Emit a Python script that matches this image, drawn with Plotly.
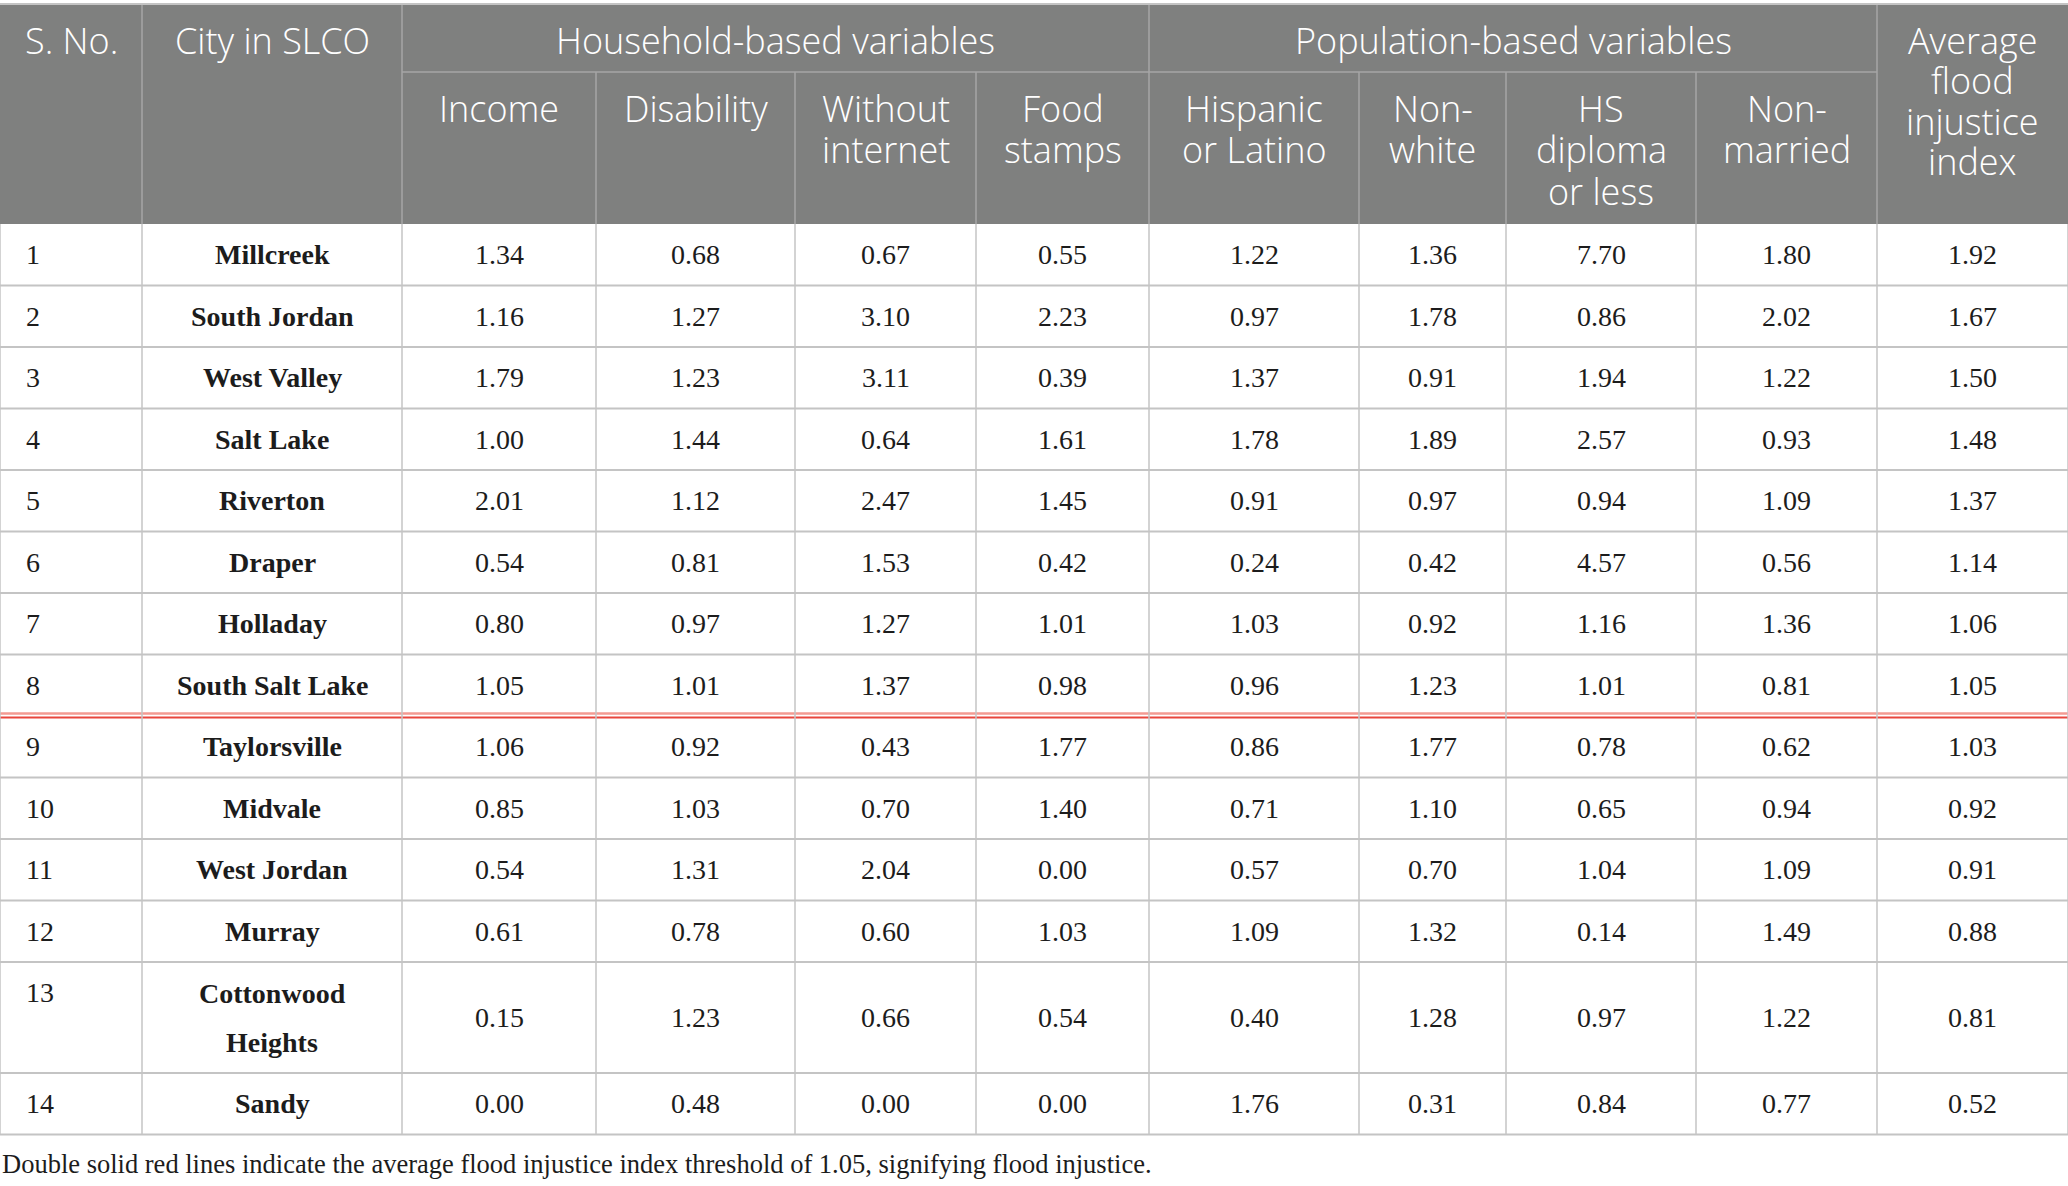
import plotly.graph_objects as go

# ---------------- data ----------------
s_no = [1, 2, 3, 4, 5, 6, 7, 8, 9, 10, 11, 12, 13, 14]
cities = ["Millcreek", "South Jordan", "West Valley", "Salt Lake", "Riverton", "Draper",
          "Holladay", "South Salt Lake", "Taylorsville", "Midvale", "West Jordan", "Murray",
          "Cottonwood Heights", "Sandy"]
income = [1.34, 1.16, 1.79, 1.00, 2.01, 0.54, 0.80, 1.05, 1.06, 0.85, 0.54, 0.61, 0.15, 0.00]
disability = [0.68, 1.27, 1.23, 1.44, 1.12, 0.81, 0.97, 1.01, 0.92, 1.03, 1.31, 0.78, 1.23, 0.48]
without_internet = [0.67, 3.10, 3.11, 0.64, 2.47, 1.53, 1.27, 1.37, 0.43, 0.70, 2.04, 0.60, 0.66, 0.00]
food_stamps = [0.55, 2.23, 0.39, 1.61, 1.45, 0.42, 1.01, 0.98, 1.77, 1.40, 0.00, 1.03, 0.54, 0.00]
hispanic_latino = [1.22, 0.97, 1.37, 1.78, 0.91, 0.24, 1.03, 0.96, 0.86, 0.71, 0.57, 1.09, 0.40, 1.76]
non_white = [1.36, 1.78, 0.91, 1.89, 0.97, 0.42, 0.92, 1.23, 1.77, 1.10, 0.70, 1.32, 1.28, 0.31]
hs_diploma = [7.70, 0.86, 1.94, 2.57, 0.94, 4.57, 1.16, 1.01, 0.78, 0.65, 1.04, 0.14, 0.97, 0.84]
non_married = [1.80, 2.02, 1.22, 0.93, 1.09, 0.56, 1.36, 0.81, 0.62, 0.94, 1.09, 1.49, 1.22, 0.77]
avg_index = [1.92, 1.67, 1.50, 1.48, 1.37, 1.14, 1.06, 1.05, 1.03, 0.92, 0.91, 0.88, 0.81, 0.52]
threshold = 1.05

group_labels = ["Household-based variables", "Population-based variables"]
sub_labels = [["Income"], ["Disability"], ["Without", "internet"], ["Food", "stamps"],
              ["Hispanic", "or Latino"], ["Non-", "white"], ["HS", "diploma", "or less"],
              ["Non-", "married"]]
first_labels = ["S. No.", "City in SLCO"]
last_label = ["Average", "flood", "injustice", "index"]
footnote = ("Double solid red lines indicate the average flood injustice index threshold "
            "of 1.05, signifying flood injustice.")

# ---------------- layout geometry ----------------
W, H = 2068, 1186
col_edges = [0, 142, 402, 596, 795, 976, 1149, 1359, 1506, 1696, 1877, 2068]
top = 4
group_bottom = 72
header_bottom = 224
row_h = 61.5
wrap_row_h = 111

HEAD_BG = "#7f807f"
HEAD_LINE = "#a6a6a6"
GRID = "#c4c4c4"
TXT = "#1c1c1c"
SANS = "Open Sans"
SERIF = "Liberation Serif"

value_cols = [income, disability, without_internet, food_stamps, hispanic_latino,
              non_white, hs_diploma, non_married, avg_index]

fig = go.Figure()
shapes = []
ann = []


def line(x0, y0, x1, y1, color, width):
    shapes.append(dict(type="line", xref="x", yref="y", x0=x0, y0=y0, x1=x1, y1=y1,
                       line=dict(color=color, width=width), layer="above"))


def text(x, y, t, size, color, family, xanchor="center", weight=400):
    ann.append(dict(x=x, y=y, xref="x", yref="y", text=t, showarrow=False,
                    xanchor=xanchor, yanchor="middle",
                    font=dict(size=size, color=color, family=family, weight=weight)))


# header background
shapes.append(dict(type="rect", xref="x", yref="y", x0=col_edges[0], x1=col_edges[-1],
                   y0=top, y1=header_bottom, fillcolor=HEAD_BG, line=dict(width=0),
                   layer="below"))

# header dividers
for i in [1, 2, 6, 10]:
    line(col_edges[i], top, col_edges[i], header_bottom, HEAD_LINE, 1.5)
for i in [3, 4, 5, 7, 8, 9]:
    line(col_edges[i], group_bottom, col_edges[i], header_bottom, HEAD_LINE, 1.5)
line(col_edges[2], group_bottom, col_edges[10], group_bottom, HEAD_LINE, 1.5)
line(col_edges[0], top, col_edges[-1], top, GRID, 2)

# header texts
head_size = 36
hw = 350
for i, lab in enumerate(first_labels):
    text((col_edges[i] + col_edges[i + 1]) / 2, 40, lab, head_size, "white", SANS, weight=hw)
text((col_edges[2] + col_edges[6]) / 2, 40, group_labels[0], head_size, "white", SANS, weight=hw)
text((col_edges[6] + col_edges[10]) / 2, 40, group_labels[1], head_size, "white", SANS, weight=hw)
for j, lines_ in enumerate(sub_labels):
    cx = (col_edges[2 + j] + col_edges[3 + j]) / 2
    for k, t in enumerate(lines_):
        text(cx, 108 + 41.5 * k, t, head_size, "white", SANS, weight=hw)
for k, t in enumerate(last_label):
    text((col_edges[10] + col_edges[11]) / 2, 40 + 40.5 * k, t, head_size, "white", SANS,
         weight=hw)

# body rows
body_size = 28
y = header_bottom
row_edges = [y]
for r in range(len(cities)):
    name = cities[r]
    wrapped = len(name) > 16
    h = wrap_row_h if wrapped else row_h
    y0, y1 = y, y + h
    cy = (y0 + y1) / 2
    if wrapped:
        parts = name.split(" ", 1)
        text(24, y0 + 30, str(s_no[r]), body_size, TXT, SERIF, xanchor="left")
        for k, p in enumerate(parts):
            text((col_edges[1] + col_edges[2]) / 2, y0 + 31 + 49 * k, p, body_size, TXT,
                 SERIF, weight=700)
    else:
        text(24, cy, str(s_no[r]), body_size, TXT, SERIF, xanchor="left")
        text((col_edges[1] + col_edges[2]) / 2, cy, name, body_size, TXT, SERIF, weight=700)
    for c, vals in enumerate(value_cols):
        text((col_edges[2 + c] + col_edges[3 + c]) / 2, cy, f"{vals[r]:.2f}", body_size, TXT,
             SERIF)
    y = y1
    row_edges.append(y)

# threshold position: after last row whose average index >= threshold
last_above = max(i for i, v in enumerate(avg_index) if v >= threshold)

for i, ye in enumerate(row_edges[1:]):
    if i == last_above:
        line(col_edges[0], ye - 2.5, col_edges[-1], ye - 2.5, "#f39a92", 2.5)
        line(col_edges[0], ye + 1.5, col_edges[-1], ye + 1.5, "#e8453c", 1.8)
    else:
        line(col_edges[0], ye, col_edges[-1], ye, GRID, 2)
for xe in col_edges:
    line(xe, header_bottom, xe, row_edges[-1], GRID, 1.5)

# footnote
text(0, row_edges[-1] + 29, footnote, 26.5, TXT, SERIF, xanchor="left")

fig.update_layout(
    width=W, height=H, autosize=False,
    margin=dict(l=0, r=0, t=0, b=0, pad=0),
    paper_bgcolor="white", plot_bgcolor="white",
    xaxis=dict(range=[0, W], visible=False, fixedrange=True),
    yaxis=dict(range=[H, 0], visible=False, fixedrange=True),
    shapes=shapes, annotations=ann, showlegend=False,
)

fig.write_html("out.html", config={"displayModeBar": False},
               post_script="document.body.style.margin='0';")
